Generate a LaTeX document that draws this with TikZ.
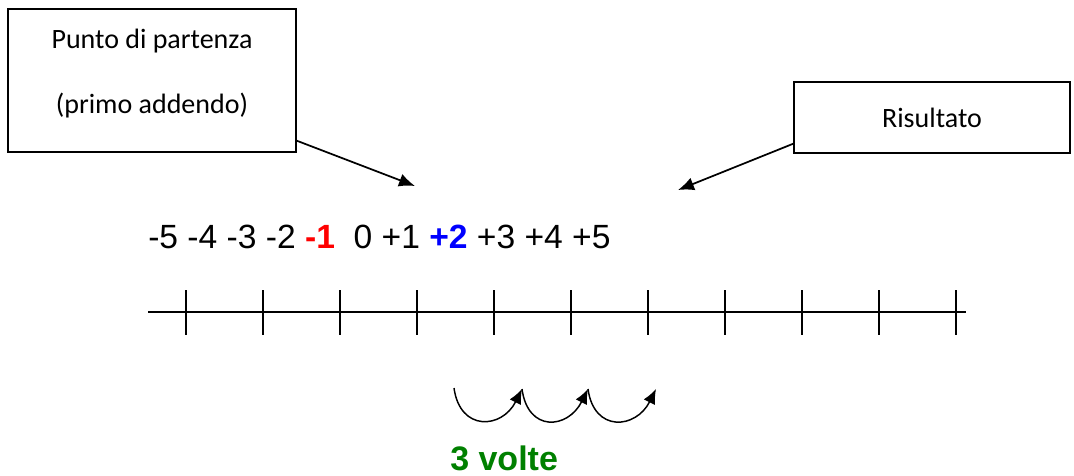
\documentclass[tikz,border=0pt]{standalone}
\usepackage{fontspec}
\setmainfont{Liberation Sans}
\newfontfamily\carlito{Carlito}
\usepackage{tikz}
\usetikzlibrary{arrows.meta}
\definecolor{voltegreen}{RGB}{0,128,0}

\begin{document}
\begin{tikzpicture}[x=0.75pt,y=-0.75pt,
    labelbox/.style={draw,line width=1pt,align=center,font=\carlito\fontsize{21}{25}\selectfont},
    pointer/.style={line width=1.3pt,-{Latex[length=12pt,width=10pt]}},
    axis/.style={line width=1.9pt},
    jump/.style={line width=1.1pt,-{Latex[length=11pt,width=9.5pt]}}]
    \useasboundingbox (0,0) rectangle (1074,475);
    % boxes
    \node[labelbox,minimum width=216pt,minimum height=107.25pt] (start) at (152,80.5) {Punto di partenza\\[24pt](primo addendo)\\[-11pt]};
    \node[labelbox,minimum width=207pt,minimum height=53.25pt] (result) at (932,117.5) {Risultato};
    \coordinate (startTip) at (415,186);
    \coordinate (resultTip) at (678,190);
    \draw[pointer] ([yshift=9pt]start.south east) -- (startTip);
    \draw[pointer] ([yshift=7.5pt]result.south west) -- (resultTip);
    % numbers
    \node[anchor=base west,inner sep=0pt,font=\fontsize{25.2}{30}\selectfont] (numbers) at (148,248) {-5 -4 -3 -2 \textbf{\color{red}-1}\ \ 0 +1 \textbf{\color{blue}+2} +3 +4 +5};
    \draw[axis] (148,312) -- (966,312);
    \foreach \i in {0,...,10}
        \draw[axis] (186+77*\i,290) -- (186+77*\i,335);
    % jumps
    \coordinate (j0) at (454,388);
    \coordinate (j1) at (522,389);
    \coordinate (j2) at (588,389);
    \coordinate (j3) at (656,389);
    \foreach \a/\b in {j0/j1,j1/j2,j2/j3}
        \draw[jump] (\a) .. controls +(6,44) and +(-20,40) .. (\b);
    \node[anchor=base west,inner sep=0pt,text=voltegreen,font=\bfseries\fontsize{25.5}{30}\selectfont] (times) at (450,470) {3 volte};
\end{tikzpicture}
\end{document}
